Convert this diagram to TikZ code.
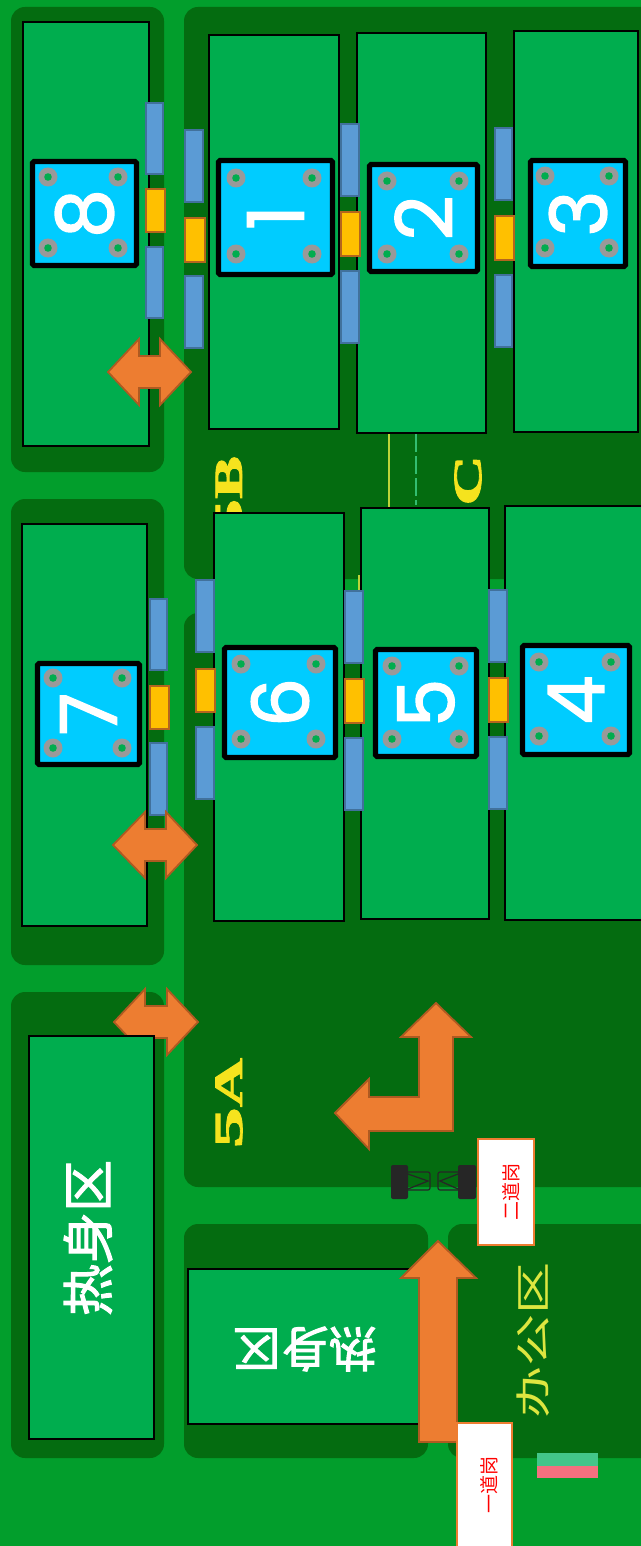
\documentclass[tikz,border=0pt]{standalone}
\usepackage{graphicx}
\usepackage{fontspec}
\setmainfont{Liberation Sans}
\newfontfamily\cjk{Noto Sans CJK SC}
\newfontfamily\warmfont{Noto Sans CJK SC}[RawFeature={embolden=2}]
\newfontfamily\digitfont{Poppins}[RawFeature={embolden=1.8}]
\newfontfamily\zonefont{Liberation Serif}[UprightFont=* Bold,RawFeature={embolden=2}]
\definecolor{grass}{HTML}{029E2C}
\definecolor{darkzone}{HTML}{046C10}
\definecolor{pitch}{HTML}{00AD4E}
\definecolor{panelblue}{HTML}{00CCFF}
\definecolor{bolt}{HTML}{999999}
\definecolor{bluefill}{HTML}{5B9BD5}
\definecolor{blueedge}{HTML}{41719C}
\definecolor{goldfill}{HTML}{FFC000}
\definecolor{goldedge}{HTML}{B4651E}
\definecolor{arrowfill}{HTML}{ED7D31}
\definecolor{arrowedge}{HTML}{AE5A21}
\definecolor{zonetext}{HTML}{F5E31E}
\definecolor{officetext}{HTML}{DDE640}
\definecolor{swatchtop}{HTML}{43C68A}
\definecolor{swatchbot}{HTML}{F4707F}
\tikzset{
  x=0.5pt,y=-0.5pt,
  zone/.style={fill=darkzone,rounded corners=7pt},
  pitchbox/.style={fill=pitch,draw=black,line width=1.25pt},
  panelbox/.style={fill=panelblue,draw=black,line width=2.6pt,rounded corners=0.8pt},
  bluebar/.style={fill=bluefill,draw=blueedge,line width=0.75pt},
  goldbar/.style={fill=goldfill,draw=goldedge,line width=0.9pt},
  bigarrow/.style={fill=arrowfill,draw=arrowedge,line width=0.9pt,line join=miter},
  gatebox/.style={fill=white,draw=arrowfill,line width=1.4pt},
  rot/.style={rotate=90,inner sep=0pt,outer sep=0pt},
  zonelabel/.style={rot,anchor=east,text=zonetext},
}
\newcommand{\boltmark}[2]{\fill[bolt] (#1,#2) circle (9.5);\fill[pitch] (#1,#2) circle (3.8);}
% x1 y1 x2 y2  bolt-x1 bolt-y1 bolt-x2 bolt-y2  digit
\newcommand{\courtpanel}[9]{%
  \draw[panelbox] ({#1+2.5},{#2+2.5}) rectangle ({#3-2.5},{#4-2.5});
  \foreach \bx in {#5,#7}{\foreach \by in {#6,#8}{\boltmark{\bx}{\by}}}
  \node[rot,text=white] (digit#9) at ({(#1+#3)/2},{(#2+#4)/2}) {\digitfont\fontsize{39}{39}\selectfont #9};
}
% x1 x2 gold-x2  y1 y2 (blue)  y3 y4 (gold)  y5 y6 (blue)
\newcommand{\barset}[9]{%
  \draw[bluebar] (#1,#4) rectangle (#2,#5);
  \draw[goldbar] (#1,#6) rectangle (#3,#7);
  \draw[bluebar] (#1,#8) rectangle (#2,#9);
}
% tip left, base left, base right, tip right, centre y
\newcommand{\doublearrow}[5]{%
  \draw[bigarrow] (#1,#5) -- (#2,{#5-33}) -- (#2,{#5-16}) -- (#3,{#5-16}) -- (#3,{#5-33}) -- (#4,#5) -- (#3,{#5+33}) -- (#3,{#5+16}) -- (#2,{#5+16}) -- (#2,{#5+33}) -- cycle;
}
% zone label: five plus stretched letter
\newcommand{\zonetxt}[2]{\zonefont\fontsize{20}{20}\selectfont\scalebox{2.05}[1]{5}\scalebox{#2}[1]{#1}}
\begin{document}
\begin{tikzpicture}
\useasboundingbox (0,0) rectangle (641,1546);
\clip (0,0) rectangle (641,1546);
\fill[grass] (0,0) rectangle (641,1546);
% dark zones
\fill[zone] (11,7) rectangle (164,472);
\fill[zone] (11,499) rectangle (164,965);
\fill[zone] (11,992) rectangle (164,1458);
\fill[zone] (184,7) rectangle (680,579);
\fill[zone] (184,613) rectangle (680,1187);
\fill[zone] (184,1224) rectangle (428,1458);
\fill[zone] (448,1224) rectangle (680,1458);
% lane lines
\draw[officetext!85!darkzone,line width=1.1pt] (389,434) -- (389,507);
\draw[officetext!85!darkzone,line width=1.1pt] (359,575) -- (359,592);
\draw[pitch!80!white,line width=0.7pt,dash pattern=on 9pt off 2pt] (416,434) -- (416,505);
% zone labels
\node[zonelabel] (lblB) at (229,456) {\zonetxt{B}{1.6}};
\node[zonelabel] (lblC) at (468,455) {\zonetxt{C}{1.75}};
\node[zonelabel] (lblA) at (229,1058) {\zonetxt{A}{1.7}};
% warm-up arrow beneath box
\doublearrow{114}{145}{167}{198}{1022}
% pitches
\draw[pitchbox] (23,22) rectangle (149,446);
\draw[pitchbox] (209,35) rectangle (339,429);
\draw[pitchbox] (357,33) rectangle (486,433);
\draw[pitchbox] (514,31) rectangle (638,432);
\draw[pitchbox] (22,524) rectangle (147,926);
\draw[pitchbox] (214,513) rectangle (344,921);
\draw[pitchbox] (361,508) rectangle (489,919);
\draw[pitchbox] (505,506) rectangle (650,920);
\draw[pitchbox] (29,1036) rectangle (154,1439);
\draw[pitchbox] (188,1269) rectangle (430,1424);
% panels
\courtpanel{30}{159}{139}{268}{48}{177}{118}{248}{8}
\courtpanel{216}{158}{335}{277}{236}{178}{312}{254}{1}
\courtpanel{367}{162}{480}{274}{387}{181}{459}{254}{2}
\courtpanel{528}{158}{628}{269}{545}{176}{609}{248}{3}
\courtpanel{35}{661}{142}{767}{53}{678}{122}{748}{7}
\courtpanel{222}{645}{338}{760}{241}{664}{316}{739}{6}
\courtpanel{373}{647}{479}{759}{392}{666}{459}{739}{5}
\courtpanel{520}{643}{632}{757}{539}{662}{611}{736}{4}
% bars
\barset{146}{163}{165}{103}{174}{189}{232}{247}{318}
\barset{185}{203}{205}{130}{202}{218}{262}{276}{348}
\barset{341}{359}{360}{124}{196}{212}{256}{271}{343}
\barset{495}{512}{514}{128}{200}{216}{260}{275}{347}
\barset{150}{167}{169}{599}{670}{686}{729}{743}{815}
\barset{196}{214}{215}{580}{652}{669}{712}{727}{799}
\barset{345}{363}{364}{591}{663}{679}{723}{738}{810}
\barset{489}{507}{508}{590}{662}{678}{722}{737}{809}
% warm-up labels
\node[rot,text=white] (warmA) at (88,1238) {\warmfont\fontsize{26}{26}\selectfont 热身区};
\node[rotate=180,inner sep=0pt,text=white] (warmB) at (305,1349) {\warmfont\fontsize{24}{24}\selectfont 热身区};
\node[rot,text=officetext] (office) at (533,1340) {\cjk\scalebox{1}[0.68]{\fontsize{26}{26}\selectfont 办公区}};
% arrows
\doublearrow{108}{139}{160}{191}{372}
\doublearrow{113}{145}{166}{197}{845}
\draw[bigarrow] (436,1003) -- (471,1037) -- (453,1037) -- (453,1131) -- (369,1131) -- (369,1149) -- (335,1113) -- (369,1079) -- (369,1097) -- (419,1097) -- (419,1037) -- (401,1037) -- cycle;
\draw[bigarrow] (438,1241) -- (476,1278) -- (457,1278) -- (457,1442) -- (419,1442) -- (419,1278) -- (401,1278) -- cycle;
% gate barrier
\fill[black!85,rounded corners=1pt] (391,1165) rectangle (408,1199);
\fill[black!85,rounded corners=1pt] (458,1165) rectangle (476,1199);
\draw[black!85,line width=0.6pt,rounded corners=1pt] (408,1172) -- (430,1172) -- (430,1190) -- (408,1190);
\draw[black!85,line width=0.6pt,rounded corners=1pt] (458,1172) -- (438,1172) -- (438,1190) -- (458,1190);
\draw[black!85,line width=0.6pt] (408,1174) -- (428,1181) -- (408,1189);
\draw[black!85,line width=0.6pt] (458,1174) -- (440,1181) -- (458,1189);
% gate boxes
\draw[gatebox] (478,1139) rectangle (534,1245);
\node[rot,text=red] (gate2) at (511,1192) {\cjk\fontsize{9.5}{9.5}\selectfont 二道岗};
\draw[gatebox] (457,1423) rectangle (512,1560);
\node[rot,text=red] (gate1) at (489,1485) {\cjk\fontsize{9.5}{9.5}\selectfont 一道岗};
% legend swatch
\fill[swatchtop] (537,1453) rectangle (598,1466);
\fill[swatchbot] (537,1466) rectangle (598,1478);
\end{tikzpicture}
\end{document}
